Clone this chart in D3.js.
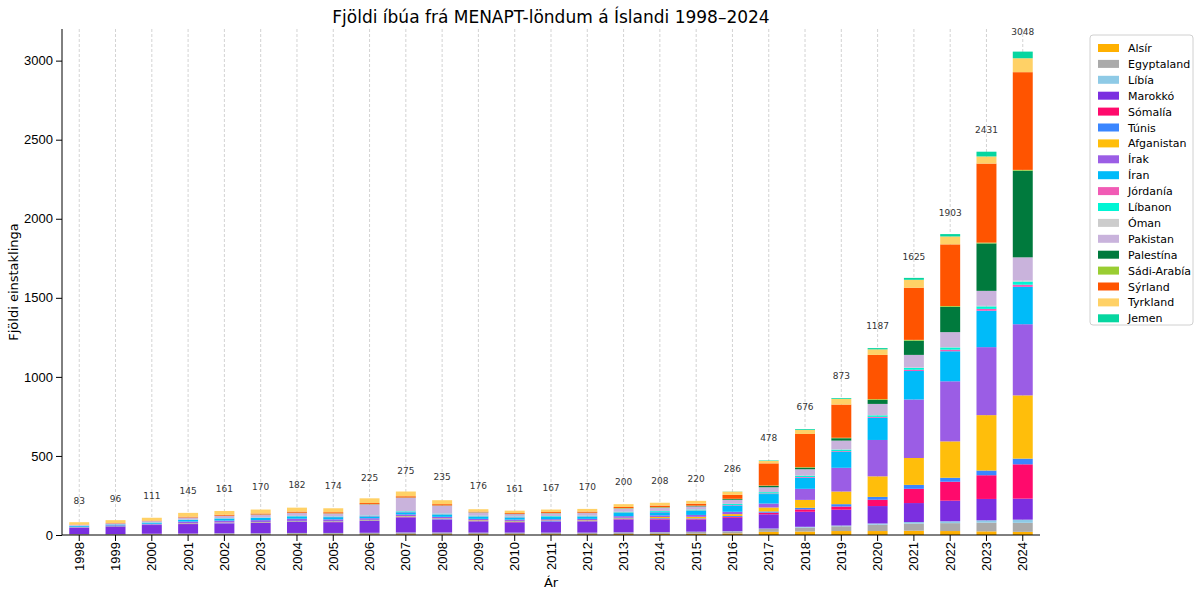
<!DOCTYPE html>
<html><head><meta charset="utf-8">
<script src="https://cdn.jsdelivr.net/npm/d3@7"></script>
<style>body{margin:0;background:#fff;font-family:"DejaVu Sans",sans-serif}</style>
</head><body><svg id="c" width="1200" height="595"></svg>
<script>
var years = d3.range(1998, 2025).map(String);
var totals = [83,96,111,145,161,170,182,174,225,275,235,176,161,167,170,200,208,220,286,478,676,873,1187,1625,1903,2431,3048];
var countries = ["Alsír","Egyptaland","Líbía","Marokkó","Sómalía","Túnis","Afganistan","Írak","Íran","Jórdanía","Líbanon","Óman","Pakistan","Palestína","Sádi-Arabía","Sýrland","Tyrkland","Jemen"];
var colors = ["#FFB000","#AAAAAA","#8ECAE6","#7B2FE0","#FF0A6C","#3A86FF","#FFBE0B","#9B5DE5","#00BBF9","#F15BB5","#00F5D4","#CCCCCC","#C9B3DC","#007A3D","#9ACD32","#FF5400","#FFD166","#06D6A0"];

var alsir     = [2,2,3,3,3,3,4,4,4,5,5,5,5,5,5,6,7,8,10,20,22,25,25,27,25,23,20];
var egypt     = [4,4,5,6,7,7,8,8,9,10,10,9,9,9,9,10,10,11,12,18,25,30,40,45,50,55,57];
var libia     = [0,0,0,0,1,1,1,1,1,1,1,1,1,1,1,1,1,2,2,3,5,5,8,10,12,15,20];
var marokko   = [40,48,55,60,62,65,70,68,75,95,80,70,65,68,70,80,80,75,85,90,95,100,110,120,130,135,133];
var somalia   = [0,0,0,1,1,1,1,1,1,2,2,2,2,2,2,3,3,4,5,10,15,20,40,90,120,150,217];
var tunis     = [2,2,2,3,3,3,3,3,3,4,4,4,4,4,4,5,5,5,6,8,10,15,18,25,25,30,36];
var afganistan= [1,1,1,2,2,2,2,2,3,3,3,3,3,3,3,4,8,10,12,25,50,80,130,170,230,350,400];
var irak      = [3,4,5,10,12,12,14,12,10,10,10,8,8,8,8,10,10,12,15,25,70,150,230,370,380,430,450];
var iran      = [5,5,6,10,12,14,14,14,12,14,14,14,14,14,14,20,20,25,40,60,70,100,140,180,190,230,236];
var jordania  = [1,1,1,1,1,1,1,1,2,2,2,2,2,2,2,3,3,3,3,4,5,5,6,8,10,12,14];
var libanon   = [1,1,2,2,2,2,3,3,3,4,4,4,4,4,4,5,5,6,6,8,8,10,10,12,14,16,20];
var oman      = [0,0,0,0,0,0,0,0,0,0,0,0,0,0,0,0,0,0,1,1,1,2,2,2,2,3,5];
var pakistan  = [5,6,8,12,15,17,18,18,70,85,50,20,15,17,17,20,20,20,25,30,40,55,70,80,95,95,148];
var palestina = [0,0,0,0,0,1,1,1,1,1,1,1,1,1,1,1,2,3,5,8,10,15,25,90,160,300,548];
var sadi      = [0,0,0,1,1,1,1,1,1,1,1,1,1,1,1,2,2,2,2,3,3,3,5,5,5,5,5];
var syrland   = [2,2,3,5,6,6,7,7,7,8,8,4,5,6,7,7,10,12,25,140,210,210,280,330,390,500,618];
var tyrkland  = [15,18,18,24,24,25,25,25,30,30,25,15,15,16,17,18,18,18,20,15,25,35,35,50,50,45,88];
var jemen     = [0,0,0,0,0,0,0,0,0,0,0,0,0,0,0,0,0,0,1,3,5,5,8,12,15,30,42];
var series = [alsir,egypt,libia,marokko,somalia,tunis,afganistan,irak,iran,jordania,libanon,oman,pakistan,palestina,sadi,syrland,tyrkland,jemen];

var rows = years.map(function(y, i){
  var r = {year: y};
  countries.forEach(function(c, j){ r[c] = series[j][i]; });
  return r;
});

var svg = d3.select("#c");
var mLeft = 62, mRight = 1040, mTop = 29, mBottom = 535;
var x = d3.scaleBand().domain(years).range([mLeft, mRight]).paddingInner(0.45).paddingOuter(0.2);
var y = d3.scaleLinear().domain([0, 3200]).range([mBottom, mTop]);

// grid
svg.append("g").selectAll("line").data(years).enter().append("line")
  .attr("x1", function(d){ return x(d) + x.bandwidth()/2; })
  .attr("x2", function(d){ return x(d) + x.bandwidth()/2; })
  .attr("y1", mTop).attr("y2", mBottom)
  .attr("stroke", "#c8c8c8").attr("stroke-dasharray", "3,2").attr("stroke-width", 0.8);

var stack = d3.stack().keys(countries)(rows);
svg.append("g").selectAll("g").data(stack).enter().append("g")
  .attr("fill", function(d, i){ return colors[i]; })
  .selectAll("rect").data(function(d){ return d; }).enter().append("rect")
  .attr("x", function(d){ return x(d.data.year); })
  .attr("width", x.bandwidth())
  .attr("y", function(d){ return y(d[1]); })
  .attr("height", function(d){ return y(d[0]) - y(d[1]); });

// totals
svg.append("g").selectAll("text").data(totals).enter().append("text")
  .attr("x", function(d, i){ return x(years[i]) + x.bandwidth()/2; })
  .attr("y", function(d, i){ return y(d) - 18; })
  .attr("text-anchor", "middle").attr("font-size", 9).attr("fill", "#333")
  .text(function(d){ return d; });

// axes
var ya = svg.append("g").attr("transform", "translate(" + mLeft + ",0)")
  .call(d3.axisLeft(y).tickValues([0,500,1000,1500,2000,2500,3000]).tickFormat(d3.format("d")).tickSizeOuter(0));
ya.selectAll("text").attr("font-size", 13).attr("fill", "#000");
var xa = svg.append("g").attr("transform", "translate(0," + mBottom + ")")
  .call(d3.axisBottom(x).tickSizeOuter(0));
xa.selectAll("text").attr("font-size", 13).attr("fill", "#000")
  .attr("transform", "rotate(-90)").attr("text-anchor", "end")
  .attr("x", -7).attr("y", 0).attr("dy", "0.35em");
svg.selectAll(".domain").attr("stroke", "#000");
xa.select(".domain").attr("d", "M" + mLeft + ",0H" + mRight);
ya.select(".domain").attr("d", "M0," + mBottom + "V" + mTop);

svg.append("text").attr("x", 551).attr("y", 23).attr("text-anchor", "middle")
  .attr("font-size", 17).text("Fjöldi íbúa frá MENAPT-löndum á Íslandi 1998–2024");
svg.append("text").attr("x", 551).attr("y", 587).attr("text-anchor", "middle")
  .attr("font-size", 13).text("Ár");
svg.append("text").attr("transform", "translate(18,282) rotate(-90)").attr("text-anchor", "middle")
  .attr("font-size", 13).text("Fjöldi einstaklinga");

// legend
var lg = svg.append("g").attr("transform", "translate(1090,35)");
lg.append("rect").attr("width", 103).attr("height", 290).attr("rx", 3)
  .attr("fill", "#fff").attr("stroke", "#d0d0d0");
var li = lg.selectAll("g").data(countries).enter().append("g")
  .attr("transform", function(d, i){ return "translate(8," + (8 + i * 15.9) + ")"; });
li.append("rect").attr("width", 21).attr("height", 8).attr("y", 1)
  .attr("fill", function(d, i){ return colors[i]; });
li.append("text").attr("x", 30).attr("y", 9).attr("font-size", 11).text(function(d){ return d; });
</script></body></html>
